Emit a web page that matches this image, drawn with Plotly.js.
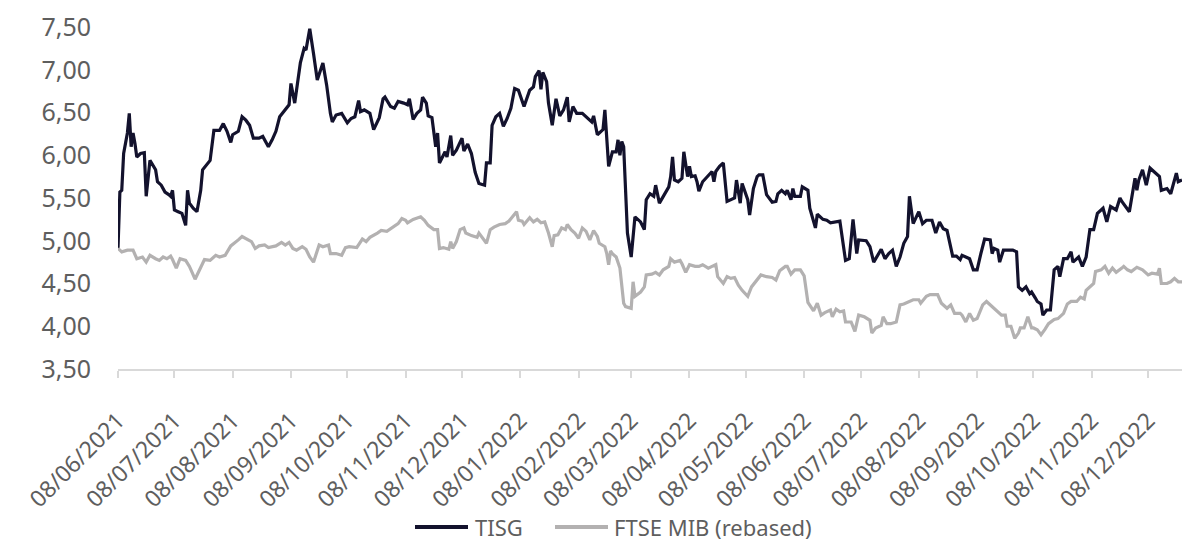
<!DOCTYPE html>
<html>
<head>
<meta charset="utf-8">
<script src="https://cdn.plot.ly/plotly-3.0.1.min.js"></script>
<style>
  html, body { margin: 0; padding: 0; background: #ffffff; }
  #chart { width: 1182px; height: 544px; }
</style>
</head>
<body>
<div id="chart"></div>
<script>
// TISG share price (EUR)
const tisgDates = [
  "2021-06-08","2021-06-09","2021-06-10","2021-06-11","2021-06-13","2021-06-14","2021-06-15","2021-06-16","2021-06-17","2021-06-18",
  "2021-06-20","2021-06-22","2021-06-23","2021-06-25","2021-06-28","2021-06-29","2021-07-01","2021-07-03","2021-07-05","2021-07-06",
  "2021-07-07","2021-07-08","2021-07-10","2021-07-12","2021-07-14","2021-07-15","2021-07-16","2021-07-18","2021-07-20","2021-07-22",
  "2021-07-23","2021-07-25","2021-07-27","2021-07-29","2021-08-01","2021-08-03","2021-08-05","2021-08-07","2021-08-08","2021-08-11",
  "2021-08-13","2021-08-15","2021-08-17","2021-08-19","2021-08-22","2021-08-24","2021-08-26","2021-08-27","2021-08-29","2021-08-31",
  "2021-09-02","2021-09-05","2021-09-07","2021-09-08","2021-09-10","2021-09-13","2021-09-15","2021-09-16","2021-09-18","2021-09-20",
  "2021-09-22","2021-09-25","2021-09-27","2021-09-29","2021-09-30","2021-10-02","2021-10-05","2021-10-08","2021-10-10","2021-10-12",
  "2021-10-14","2021-10-15","2021-10-17","2021-10-20","2021-10-22","2021-10-25","2021-10-27","2021-10-28","2021-10-31","2021-11-02",
  "2021-11-04","2021-11-07","2021-11-09","2021-11-10","2021-11-12","2021-11-14","2021-11-16","2021-11-17","2021-11-19","2021-11-20",
  "2021-11-22","2021-11-24","2021-11-25","2021-11-26","2021-11-29","2021-11-30","2021-12-02","2021-12-03","2021-12-05","2021-12-08",
  "2021-12-09","2021-12-11","2021-12-13","2021-12-15","2021-12-17","2021-12-20","2021-12-21","2021-12-23","2021-12-24","2021-12-26",
  "2021-12-28","2021-12-30","2022-01-01","2022-01-03","2022-01-05","2022-01-07","2022-01-10","2022-01-13","2022-01-15","2022-01-16",
  "2022-01-18","2022-01-19","2022-01-20","2022-01-22","2022-01-23","2022-01-25","2022-01-27","2022-01-29","2022-01-31","2022-02-02",
  "2022-02-03","2022-02-05","2022-02-07","2022-02-10","2022-02-13","2022-02-15","2022-02-16","2022-02-18","2022-02-21","2022-02-22",
  "2022-02-24","2022-02-26","2022-02-28","2022-03-01","2022-03-02","2022-03-03","2022-03-04","2022-03-05","2022-03-06","2022-03-08",
  "2022-03-10","2022-03-13","2022-03-15","2022-03-16","2022-03-18","2022-03-20","2022-03-21","2022-03-23","2022-03-25","2022-03-28",
  "2022-03-29","2022-03-30","2022-03-31","2022-04-02","2022-04-04","2022-04-05","2022-04-07","2022-04-08","2022-04-09","2022-04-11",
  "2022-04-12","2022-04-13","2022-04-15","2022-04-18","2022-04-20","2022-04-21","2022-04-22","2022-04-24","2022-04-26","2022-04-28",
  "2022-04-30","2022-05-02","2022-05-03","2022-05-05","2022-05-06","2022-05-08","2022-05-09","2022-05-10","2022-05-12","2022-05-14",
  "2022-05-15","2022-05-17","2022-05-19","2022-05-22","2022-05-24","2022-05-25","2022-05-27","2022-05-29","2022-05-30","2022-06-01",
  "2022-06-02","2022-06-03","2022-06-06","2022-06-07","2022-06-10","2022-06-11","2022-06-14","2022-06-15","2022-06-18","2022-06-20",
  "2022-06-22","2022-06-27","2022-06-30","2022-07-02","2022-07-04","2022-07-06","2022-07-07","2022-07-11","2022-07-13","2022-07-15",
  "2022-07-18","2022-07-19","2022-07-21","2022-07-23","2022-07-25","2022-07-27","2022-07-29","2022-07-31","2022-08-02","2022-08-03",
  "2022-08-05","2022-08-08","2022-08-10","2022-08-12","2022-08-15","2022-08-17","2022-08-19","2022-08-21","2022-08-23","2022-08-26",
  "2022-08-28","2022-08-30","2022-08-31","2022-09-02","2022-09-04","2022-09-06","2022-09-08","2022-09-10","2022-09-12","2022-09-15",
  "2022-09-16","2022-09-17","2022-09-19","2022-09-20","2022-09-22","2022-09-25","2022-09-27","2022-09-29","2022-09-30","2022-10-02",
  "2022-10-04","2022-10-06","2022-10-07","2022-10-09","2022-10-10","2022-10-12","2022-10-13","2022-10-15","2022-10-17","2022-10-19",
  "2022-10-21","2022-10-22","2022-10-24","2022-10-26","2022-10-28","2022-10-29","2022-10-31","2022-11-01","2022-11-03","2022-11-05",
  "2022-11-07","2022-11-09","2022-11-11","2022-11-14","2022-11-16","2022-11-18","2022-11-21","2022-11-23","2022-11-24","2022-11-26",
  "2022-11-28","2022-12-01","2022-12-02","2022-12-03","2022-12-05","2022-12-07","2022-12-09","2022-12-11","2022-12-14","2022-12-15",
  "2022-12-18","2022-12-20","2022-12-23","2022-12-24","2022-12-26"
];
const tisgValues = [
  4.91,5.57,5.59,6.02,6.26,6.49,6.10,6.26,6.14,5.98,
  6.02,6.03,5.52,5.94,5.83,5.69,5.65,5.57,5.54,5.52,
  5.59,5.36,5.34,5.32,5.18,5.59,5.44,5.38,5.34,5.59,
  5.83,5.89,5.94,6.29,6.29,6.37,6.28,6.15,6.24,6.28,
  6.45,6.41,6.35,6.20,6.20,6.22,6.14,6.10,6.18,6.28,
  6.45,6.53,6.59,6.84,6.61,7.08,7.25,7.23,7.48,7.19,
  6.88,7.08,6.82,6.49,6.39,6.47,6.49,6.38,6.43,6.45,
  6.64,6.51,6.53,6.49,6.30,6.44,6.66,6.68,6.57,6.55,
  6.63,6.61,6.59,6.66,6.42,6.49,6.53,6.68,6.61,6.46,
  6.44,6.10,6.26,5.91,6.04,5.98,6.23,6.00,6.06,6.20,
  6.05,6.13,6.02,5.80,5.67,5.65,5.91,5.91,6.35,6.45,
  6.49,6.34,6.43,6.55,6.78,6.76,6.57,6.76,6.80,6.92,
  6.99,6.77,6.97,6.86,6.61,6.35,6.66,6.46,6.53,6.68,
  6.39,6.57,6.49,6.49,6.43,6.39,6.46,6.24,6.30,6.53,
  5.87,6.04,6.04,6.18,6.00,6.16,6.10,5.48,5.09,4.81,
  5.28,5.22,5.13,5.48,5.55,5.52,5.65,5.44,5.52,5.63,
  5.75,5.98,5.71,5.69,5.73,6.04,5.75,5.87,5.75,5.76,
  5.69,5.58,5.69,5.77,5.81,5.69,5.81,5.87,5.91,5.46,
  5.48,5.50,5.71,5.44,5.67,5.55,5.48,5.30,5.61,5.75,
  5.77,5.77,5.54,5.45,5.46,5.55,5.59,5.55,5.59,5.48,
  5.61,5.52,5.52,5.63,5.59,5.38,5.15,5.31,5.25,5.24,
  5.21,5.23,4.77,4.79,5.25,4.85,5.01,5.00,4.93,4.75,
  4.85,4.90,4.79,4.85,4.89,4.70,4.81,4.97,5.05,5.52,
  5.20,5.34,5.20,5.24,5.24,5.09,5.22,5.14,5.12,4.82,
  4.82,4.78,4.83,4.81,4.79,4.66,4.66,4.85,5.02,5.01,
  4.85,4.91,4.89,4.75,4.89,4.89,4.89,4.87,4.46,4.42,
  4.46,4.38,4.40,4.33,4.29,4.26,4.13,4.19,4.19,4.66,
  4.70,4.58,4.79,4.79,4.87,4.75,4.79,4.81,4.70,4.81,
  5.13,5.13,5.32,5.38,5.22,5.40,5.36,5.50,5.46,5.40,
  5.34,5.73,5.59,5.71,5.83,5.65,5.85,5.81,5.75,5.59,
  5.61,5.55,5.79,5.69,5.71
];

// FTSE MIB index, rebased to the TISG starting price
const ftseDates = [
  "2021-06-08","2021-06-10","2021-06-13","2021-06-16","2021-06-18","2021-06-21","2021-06-23","2021-06-25","2021-06-28","2021-06-30",
  "2021-07-02","2021-07-04","2021-07-06","2021-07-07","2021-07-09","2021-07-11","2021-07-14","2021-07-16","2021-07-19","2021-07-22",
  "2021-07-24","2021-07-27","2021-07-30","2021-08-01","2021-08-04","2021-08-07","2021-08-09","2021-08-11","2021-08-13","2021-08-15",
  "2021-08-18","2021-08-20","2021-08-22","2021-08-25","2021-08-27","2021-08-31","2021-09-03","2021-09-05","2021-09-07","2021-09-09",
  "2021-09-11","2021-09-14","2021-09-16","2021-09-18","2021-09-20","2021-09-23","2021-09-25","2021-09-28","2021-09-29","2021-10-02",
  "2021-10-05","2021-10-07","2021-10-09","2021-10-13","2021-10-16","2021-10-18","2021-10-20","2021-10-24","2021-10-26","2021-10-29",
  "2021-11-01","2021-11-04","2021-11-06","2021-11-08","2021-11-09","2021-11-12","2021-11-16","2021-11-18","2021-11-20","2021-11-23",
  "2021-11-25","2021-11-26","2021-11-28","2021-12-01","2021-12-02","2021-12-03","2021-12-05","2021-12-07","2021-12-09","2021-12-10",
  "2021-12-13","2021-12-16","2021-12-17","2021-12-21","2021-12-23","2021-12-25","2021-12-28","2021-12-31","2022-01-02","2022-01-03",
  "2022-01-06","2022-01-07","2022-01-09","2022-01-10","2022-01-13","2022-01-15","2022-01-17","2022-01-19","2022-01-21","2022-01-23",
  "2022-01-25","2022-01-26","2022-01-28","2022-01-30","2022-02-01","2022-02-02","2022-02-04","2022-02-06","2022-02-08","2022-02-10",
  "2022-02-12","2022-02-14","2022-02-16","2022-02-18","2022-02-19","2022-02-22","2022-02-23","2022-02-24","2022-02-25","2022-02-26",
  "2022-02-28","2022-03-02","2022-03-04","2022-03-05","2022-03-08","2022-03-09","2022-03-10","2022-03-13","2022-03-15","2022-03-16",
  "2022-03-19","2022-03-21","2022-03-23","2022-03-25","2022-03-28","2022-03-29","2022-03-31","2022-04-03","2022-04-04","2022-04-06",
  "2022-04-08","2022-04-11","2022-04-13","2022-04-15","2022-04-18","2022-04-20","2022-04-22","2022-04-23","2022-04-26","2022-04-28",
  "2022-04-30","2022-05-02","2022-05-04","2022-05-06","2022-05-09","2022-05-11","2022-05-14","2022-05-16","2022-05-19","2022-05-22",
  "2022-05-24","2022-05-26","2022-05-29","2022-05-30","2022-06-01","2022-06-03","2022-06-06","2022-06-08","2022-06-10","2022-06-13",
  "2022-06-15","2022-06-17","2022-06-19","2022-06-22","2022-06-23","2022-06-25","2022-06-27","2022-06-29","2022-06-30","2022-07-03",
  "2022-07-05","2022-07-07","2022-07-10","2022-07-13","2022-07-14","2022-07-16","2022-07-19","2022-07-20","2022-07-22","2022-07-24",
  "2022-07-27","2022-07-29","2022-07-31","2022-08-03","2022-08-05","2022-08-08","2022-08-09","2022-08-12","2022-08-14","2022-08-18",
  "2022-08-20","2022-08-23","2022-08-25","2022-08-27","2022-08-30","2022-08-31","2022-09-02","2022-09-04","2022-09-06","2022-09-08",
  "2022-09-11","2022-09-13","2022-09-15","2022-09-17","2022-09-19","2022-09-21","2022-09-23","2022-09-24","2022-09-26","2022-09-28",
  "2022-09-30","2022-10-01","2022-10-03","2022-10-05","2022-10-07","2022-10-08","2022-10-10","2022-10-12","2022-10-14","2022-10-16",
  "2022-10-19","2022-10-21","2022-10-24","2022-10-26","2022-10-28","2022-10-31","2022-11-02","2022-11-04","2022-11-05","2022-11-07",
  "2022-11-09","2022-11-10","2022-11-13","2022-11-15","2022-11-17","2022-11-19","2022-11-21","2022-11-24","2022-11-25","2022-11-27",
  "2022-11-29","2022-12-02","2022-12-05","2022-12-08","2022-12-10","2022-12-13","2022-12-14","2022-12-15","2022-12-18","2022-12-20",
  "2022-12-22","2022-12-24","2022-12-26"
];
const ftseValues = [
  4.91,4.87,4.89,4.89,4.79,4.81,4.75,4.83,4.79,4.77,
  4.81,4.79,4.82,4.78,4.68,4.79,4.77,4.70,4.55,4.68,
  4.78,4.77,4.83,4.81,4.83,4.94,4.97,5.01,5.05,5.03,
  4.99,4.91,4.94,4.95,4.92,4.94,4.98,4.95,4.98,4.91,
  4.89,4.93,4.90,4.81,4.75,4.95,4.93,4.95,4.85,4.85,
  4.83,4.92,4.93,4.92,5.02,4.99,5.04,5.09,5.12,5.11,
  5.16,5.20,5.26,5.24,5.21,5.25,5.28,5.24,5.18,5.13,
  5.13,4.91,4.92,4.90,4.99,4.91,4.99,5.13,5.15,5.09,
  5.06,5.04,5.09,4.97,5.13,5.16,5.19,5.20,5.23,5.26,
  5.34,5.24,5.23,5.19,5.27,5.22,5.25,5.21,5.22,5.09,
  4.93,5.06,5.07,5.15,5.13,5.19,5.13,5.09,5.03,5.15,
  5.11,5.01,5.12,5.05,4.97,4.93,4.85,4.72,4.88,4.85,
  4.81,4.68,4.27,4.23,4.21,4.52,4.35,4.40,4.46,4.60,
  4.61,4.63,4.60,4.66,4.70,4.79,4.75,4.77,4.73,4.63,
  4.72,4.70,4.70,4.72,4.68,4.70,4.72,4.58,4.50,4.58,
  4.56,4.57,4.48,4.42,4.35,4.46,4.54,4.60,4.58,4.57,
  4.54,4.65,4.70,4.70,4.61,4.66,4.66,4.59,4.28,4.18,
  4.27,4.13,4.16,4.19,4.11,4.20,4.17,4.18,4.05,4.05,
  3.94,4.13,4.11,4.07,3.92,3.98,4.01,4.11,4.03,4.03,
  4.05,4.25,4.26,4.29,4.31,4.31,4.27,4.35,4.37,4.37,
  4.27,4.21,4.25,4.15,4.15,4.13,4.05,4.15,4.07,4.09,
  4.25,4.29,4.25,4.21,4.18,4.13,4.13,4.00,4.00,3.86,
  3.92,3.98,3.98,4.11,3.98,3.98,3.96,3.90,3.96,4.03,
  4.08,4.09,4.15,4.26,4.29,4.29,4.34,4.32,4.42,4.46,
  4.50,4.64,4.66,4.70,4.62,4.68,4.63,4.68,4.70,4.66,
  4.64,4.69,4.66,4.60,4.62,4.61,4.68,4.50,4.50,4.52,
  4.56,4.52,4.52
];

// Monthly x-axis ticks
const tickDates = [
  "2021-06-08","2021-07-08","2021-08-08","2021-09-08","2021-10-08","2021-11-08","2021-12-08",
  "2022-01-08","2022-02-08","2022-03-08","2022-04-08","2022-05-08","2022-06-08","2022-07-08",
  "2022-08-08","2022-09-08","2022-10-08","2022-11-08","2022-12-08"
];
const tickLabels = [
  "08/06/2021","08/07/2021","08/08/2021","08/09/2021","08/10/2021","08/11/2021","08/12/2021",
  "08/01/2022","08/02/2022","08/03/2022","08/04/2022","08/05/2022","08/06/2022","08/07/2022",
  "08/08/2022","08/09/2022","08/10/2022","08/11/2022","08/12/2022"
];
const yTicks = [3.5, 4.0, 4.5, 5.0, 5.5, 6.0, 6.5, 7.0, 7.5];

const seriesNames = ["TISG", "FTSE MIB (rebased)"];
const seriesColors = ["#13122d", "#b3b1b1"];

const FONT = "'Noto Sans', 'Open Sans', sans-serif";
const TEXT_GREY = "#5e5e5e";

const W = 1182, H = 544;
const M = { l: 118, r: 0, t: 27, b: 175 };
const plotW = W - M.l - M.r, plotH = H - M.t - M.b;
// pixel position on the page -> paper coordinates
const px = v => (v - M.l) / plotW;
const py = v => (H - M.b - v) / plotH;

const traces = [
  { x: tisgDates, y: tisgValues, name: seriesNames[0], type: "scatter", mode: "lines",
    line: { color: seriesColors[0], width: 3.2 } },
  { x: ftseDates, y: ftseValues, name: seriesNames[1], type: "scatter", mode: "lines",
    line: { color: seriesColors[1], width: 3.2 } }
];

// Legend below the axis: a line sample followed by the series name
const legendRow = 527;
const legendItems = [
  { x0: 415, x1: 468, text: 473 },
  { x0: 555, x1: 608, text: 612 }
];
const shapes = legendItems.map((it, i) => ({
  type: "line", xref: "paper", yref: "paper",
  x0: px(it.x0), x1: px(it.x1), y0: py(legendRow), y1: py(legendRow),
  line: { color: seriesColors[i], width: 4 }
}));
const annotations = legendItems.map((it, i) => ({
  xref: "paper", yref: "paper",
  x: px(it.text), y: py(legendRow),
  xanchor: "left", yanchor: "middle",
  text: seriesNames[i], showarrow: false,
  font: { family: FONT, size: 22, color: TEXT_GREY }
}));

const layout = {
  width: W, height: H,
  margin: M,
  paper_bgcolor: "#ffffff", plot_bgcolor: "#ffffff",
  separators: ",.",
  font: { family: FONT, color: TEXT_GREY, size: 22 },
  showlegend: false,
  shapes: shapes,
  annotations: annotations,
  xaxis: {
    type: "date",
    range: ["2021-06-08", "2022-12-26"],
    tickmode: "array",
    tickvals: tickDates,
    ticktext: tickLabels,
    tickangle: -45,
    tickfont: { family: FONT, size: 23, color: TEXT_GREY },
    ticklabelstandoff: 20,
    showgrid: false, zeroline: false,
    showline: true, linecolor: "#d9d9d9", linewidth: 2,
    ticks: "outside", ticklen: 7, tickwidth: 2, tickcolor: "#d9d9d9"
  },
  yaxis: {
    range: [3.5, 7.5],
    tickmode: "array",
    tickvals: yTicks,
    tickformat: ".2f",
    tickfont: { family: FONT, size: 25, color: TEXT_GREY },
    showgrid: false, zeroline: false, showline: false,
    ticks: "", ticklabelstandoff: 26
  }
};

Plotly.newPlot("chart", traces, layout, { displayModeBar: false, staticPlot: true });
</script>
</body>
</html>
